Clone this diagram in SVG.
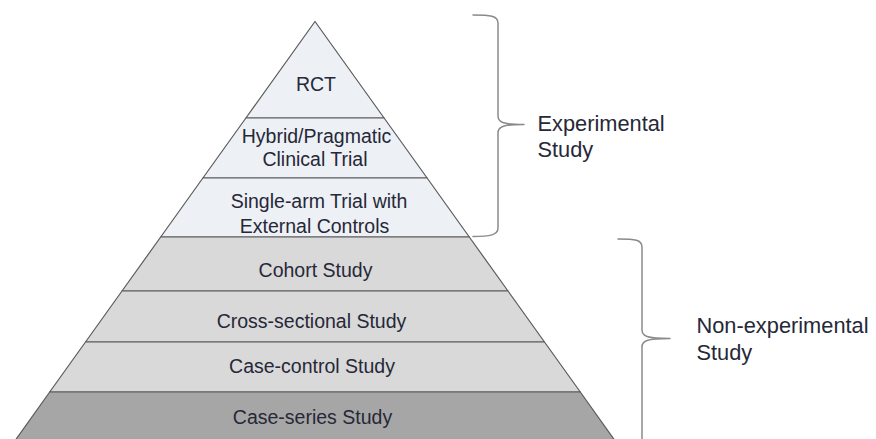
<svg xmlns="http://www.w3.org/2000/svg" width="876" height="439" viewBox="0 0 876 439">
  <style>
    .band { stroke: #5a5a5a; stroke-width: 1.2; stroke-linejoin: round; }
    .exp { fill: #edf0f5; }
    .obs { fill: #d9d9d9; }
    .low { fill: #a6a6a6; }
    .t { font-family: "Liberation Sans", Arial, sans-serif; font-size: 19.5px; fill: #262838; text-anchor: middle; }
    .lbl { font-family: "Liberation Sans", Arial, sans-serif; font-size: 21.8px; fill: #262838; }
    .brace { fill: none; stroke: #8a8a8a; stroke-width: 1.5; stroke-linecap: round; stroke-linejoin: round; }
  </style>
  <rect width="876" height="439" fill="#ffffff"/>

  <g id="rct">
    <polygon class="band exp" points="315,21.5 384.1,118 245.9,118"/>
    <text class="t" x="316" y="91">RCT</text>
  </g>
  <g id="hybrid">
    <polygon class="band exp" points="245.9,118 384.1,118 427.1,178 202.9,178"/>
    <text class="t" x="316.5" y="143">Hybrid/Pragmatic</text>
    <text class="t" x="315" y="166">Clinical Trial</text>
  </g>
  <g id="single-arm">
    <polygon class="band exp" points="202.9,178 427.1,178 469.3,237 160.7,237"/>
    <text class="t" x="319" y="208">Single-arm Trial with</text>
    <text class="t" x="314.5" y="233">External Controls</text>
  </g>
  <g id="cohort">
    <polygon class="band obs" points="160.7,237 469.3,237 508,291 122,291"/>
    <text class="t" x="315.5" y="277">Cohort Study</text>
  </g>
  <g id="cross-sectional">
    <polygon class="band obs" points="122,291 508,291 544.5,342 85.5,342"/>
    <text class="t" x="311.5" y="328">Cross-sectional Study</text>
  </g>
  <g id="case-control">
    <polygon class="band obs" points="85.5,342 544.5,342 580.3,392 49.7,392"/>
    <text class="t" x="312" y="373">Case-control Study</text>
  </g>
  <g id="case-series">
    <polygon class="band low" points="49.7,392 580.3,392 614.5,440 15.5,440"/>
    <text class="t" x="312.5" y="424">Case-series Study</text>
  </g>

  <g id="connectors">
    <path class="brace" d="M473,15 C490,15 498,15.5 498,23 V116 C498,122 502,124.5 524,124.5 C502,124.5 498,127 498,133 V228 C498,235 490,236.5 473,236.5"/>
    <path class="brace" d="M618,239 C635,239 642,239.5 642,247 V330 C642,336 646,338.5 670,338.5 C646,338.5 642,341 642,347 V445"/>
  </g>

  <g id="experimental-label">
    <text class="lbl" x="537.5" y="131">Experimental</text>
    <text class="lbl" x="537.5" y="157">Study</text>
  </g>
  <g id="non-experimental-label">
    <text class="lbl" x="696.5" y="333">Non-experimental</text>
    <text class="lbl" x="696.5" y="360">Study</text>
  </g>
</svg>
